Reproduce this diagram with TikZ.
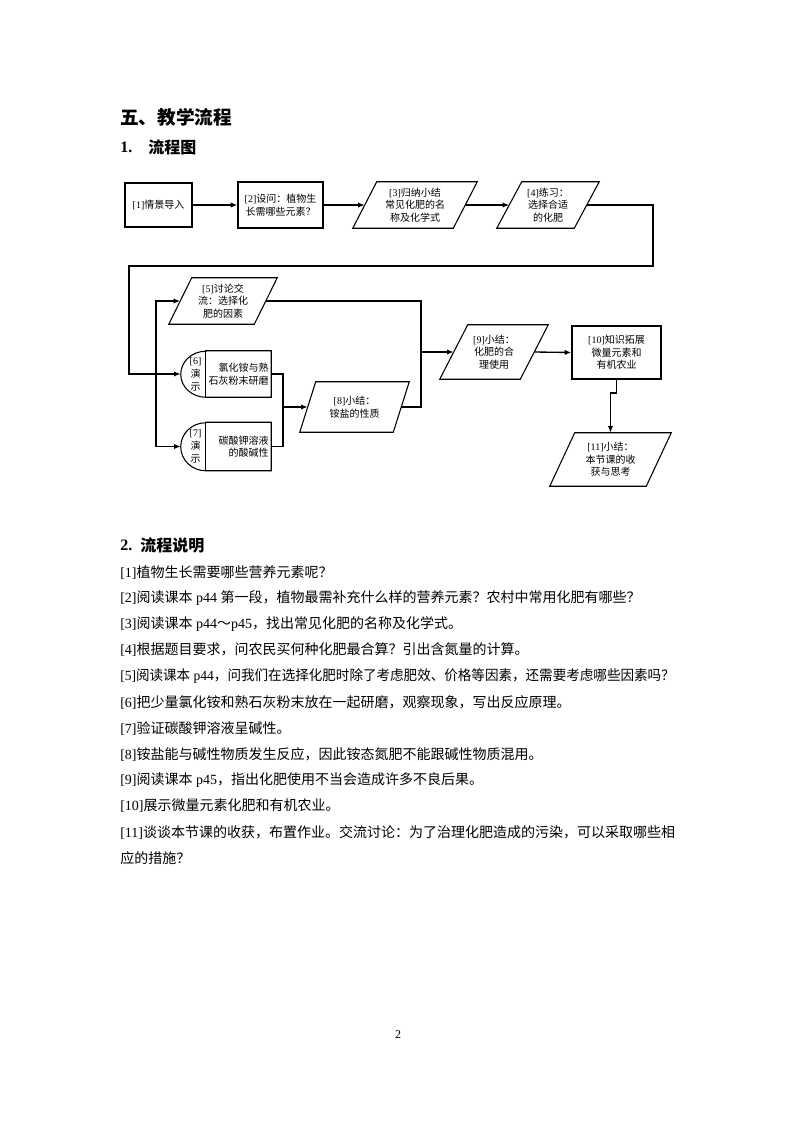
\documentclass[tikz,border=0pt]{standalone}
\usepackage{fontspec}
\setmainfont{Liberation Serif}
\newfontfamily\cjk{Noto Sans CJK SC}
\usetikzlibrary{arrows.meta}
\newcommand\z[1]{{\cjk #1}}
\newcommand\boxfont{\fontsize{7.5}{9.4}\selectfont}
\def\u{0.75pt}
% parallelogram outline around an invisible node: #1 node, #2 slant in px
\newcommand\paral[2]{\draw[shape line] ([xshift=-#2*0.375pt]#1.south west) -- ([xshift=#2*0.375pt]#1.north west) -- ([xshift=#2*0.375pt]#1.north east) -- ([xshift=-#2*0.375pt]#1.south east) -- cycle;}
% demo shape: half ellipse on the left, #1 node, #2 half height in px
\newcommand\demoshape[2]{\draw[shape line] ([xshift=25*\u]#1.north west) -- (#1.north east) -- (#1.south east) -- ([xshift=25*\u]#1.south west) arc[start angle=270, end angle=90, x radius=25*\u, y radius=#2*\u] -- cycle;
  \draw[shape line] ([xshift=25*\u]#1.north west) -- ([xshift=25*\u]#1.south west);}
\begin{document}
\begin{tikzpicture}[x=0.75pt,y=-0.75pt,
  shape line/.style={line width=0.8pt},
  rbox/.style={draw, line width=1pt, inner sep=0pt, align=center, font=\boxfont},
  pbox/.style={inner sep=0pt, align=center, font=\boxfont},
  dlabel/.style={inner sep=0pt, align=center, font=\fontsize{7.5}{9.8}\selectfont},
  dtext/.style={inner sep=0pt, align=right, anchor=east, font=\boxfont},
  conn/.style={line width=1pt},
  arr/.style={conn, -{Latex[length=5pt,width=4pt]}},
  txt/.style={anchor=west, inner sep=0pt, font=\fontsize{10.5}{12}\selectfont},
  head/.style={anchor=west, inner sep=0pt, font=\fontsize{12}{14}\selectfont\bfseries}]
\useasboundingbox (0,0) rectangle (794,1124);

% headings
\node[anchor=west, inner sep=0pt, font=\fontsize{14}{16}\selectfont\bfseries] (h1) at (120,117) {\z{五、教学流程}};
\node[head] (h2a) at (120,147) {1.};
\node[head] (h2b) at (148,147) {\z{流程图}};

% flowchart nodes
\node[rbox, minimum width=67*\u, minimum height=44*\u] (b1) at (158.5,205) {[1]\z{情景导入}};
\node[rbox, minimum width=85*\u, minimum height=46*\u] (b2) at (280.5,205) {[2]\z{设问：植物生}\\\z{长需哪些元素？}};
\node[pbox, minimum width=100*\u, minimum height=46*\u] (b3) at (415,205) {[3]\z{归纳小结}\\\z{常见化肥的名}\\\z{称及化学式}};
\paral{b3}{24}
\node[pbox, minimum width=77*\u, minimum height=46*\u] (b4) at (548,205) {[4]\z{练习：}\\\z{选择合适}\\\z{的化肥}};
\paral{b4}{25}
\node[pbox, minimum width=85*\u, minimum height=46*\u] (b5) at (223,301) {[5]\z{讨论交}\\\z{流：选择化}\\\z{肥的因素}};
\paral{b5}{23}

\node[inner sep=0pt, minimum width=90*\u, minimum height=46*\u] (b6) at (226,374) {};
\demoshape{b6}{23}
\node[dlabel] (b6l) at (195.5,374) {[6]\\\z{演}\\\z{示}};
\node[dtext] (b6t) at (269,374) {\z{氯化铵与熟}\\\z{石灰粉末研磨}};

\node[inner sep=0pt, minimum width=90*\u, minimum height=48*\u] (b7) at (226,446.5) {};
\demoshape{b7}{24}
\node[dlabel] (b7l) at (195.5,446.5) {[7]\\\z{演}\\\z{示}};
\node[dtext] (b7t) at (269,446.5) {\z{碳酸钾溶液}\\\z{的酸碱性}};

\node[pbox, minimum width=93*\u, minimum height=50*\u] (b8) at (354.5,407) {[8]\z{小结：}\\\z{铵盐的性质}};
\paral{b8}{16}
\node[pbox, minimum width=80*\u, minimum height=54*\u] (b9) at (494,352) {[9]\z{小结：}\\\z{化肥的合}\\\z{理使用}};
\paral{b9}{28}
\node[rbox, minimum width=89*\u, minimum height=53*\u] (b10) at (616.5,352.5) {[10]\z{知识拓展}\\\z{微量元素和}\\\z{有机农业}};
\node[pbox, minimum width=96*\u, minimum height=53*\u] (b11) at (610.5,459.5) {[11]\z{小结：}\\\z{本节课的收}\\\z{获与思考}};
\paral{b11}{25}

% connector coordinates
\coordinate (c1) at (653,266);
\coordinate (c2) at (129,374);
\coordinate (j) at (156,374);
\coordinate (m) at (283,407);
\coordinate (n) at (421,352);
\coordinate (k1) at (616.5,393);
\coordinate (k2) at (610.5,393);

% connectors
\draw[arr] (b1.east) -- (b2.west);
\draw[arr] (b2.east) -- (b3.west);
\draw[arr] (b3.east) -- (b4.west);
\draw[arr] (b4.east) -| (c1) -| (c2) -- (b6.west);
\draw[arr] (j) |- (b5.west);
\draw[arr] (j) |- (b7.west);
\draw[conn] (b6.east) -| (m);
\draw[conn] (b7.east) -| (m);
\draw[arr] (m) -- (b8.west);
\draw[conn] (b5.east) -| (n);
\draw[conn] (b8.east) -| (n);
\draw[arr] (n) -- (b9.west);
\draw[arr] (b9.east) -- (b10.west);
\draw[arr] (b10.south) -- (k1) -- (k2) -- (b11.north);

% section 2
\node[head] (h3a) at (120,545) {2.};
\node[head] (h3b) at (140,545) {\z{流程说明}};
\node[txt] (t1) at (120,572) {[1]\z{植物生长需要哪些营养元素呢？}};
\node[txt] (t2) at (120,598) {[2]\z{阅读课本} p44 \z{第一段，植物最需补充什么样的营养元素？农村中常用化肥有哪些？}};
\node[txt] (t3) at (120,624) {[3]\z{阅读课本} p44\z{～}p45\z{，找出常见化肥的名称及化学式。}};
\node[txt] (t4) at (120,650) {[4]\z{根据题目要求，问农民买何种化肥最合算？引出含氮量的计算。}};
\node[txt] (t5) at (120,676) {\scalebox{0.968}[1]{[5]\z{阅读课本} p44\z{，问我们在选择化肥时除了考虑肥效、价格等因素，还需要考虑哪些因素吗？}}};
\node[txt] (t6) at (120,702) {[6]\z{把少量氯化铵和熟石灰粉末放在一起研磨，观察现象，写出反应原理。}};
\node[txt] (t7) at (120,728) {[7]\z{验证碳酸钾溶液呈碱性。}};
\node[txt] (t8) at (120,754) {[8]\z{铵盐能与碱性物质发生反应，因此铵态氮肥不能跟碱性物质混用。}};
\node[txt] (t9) at (120,780) {[9]\z{阅读课本} p45\z{，指出化肥使用不当会造成许多不良后果。}};
\node[txt] (t10) at (120,806) {[10]\z{展示微量元素化肥和有机农业。}};
\node[txt] (t11) at (120,832) {[11]\z{谈谈本节课的收获，布置作业。交流讨论：为了治理化肥造成的污染，可以采取哪些相}};
\node[txt] (t12) at (120,858) {\z{应的措施？}};

\node[inner sep=0pt, font=\fontsize{9}{10}\selectfont] (pg) at (398,1035) {2};
\end{tikzpicture}
\end{document}
